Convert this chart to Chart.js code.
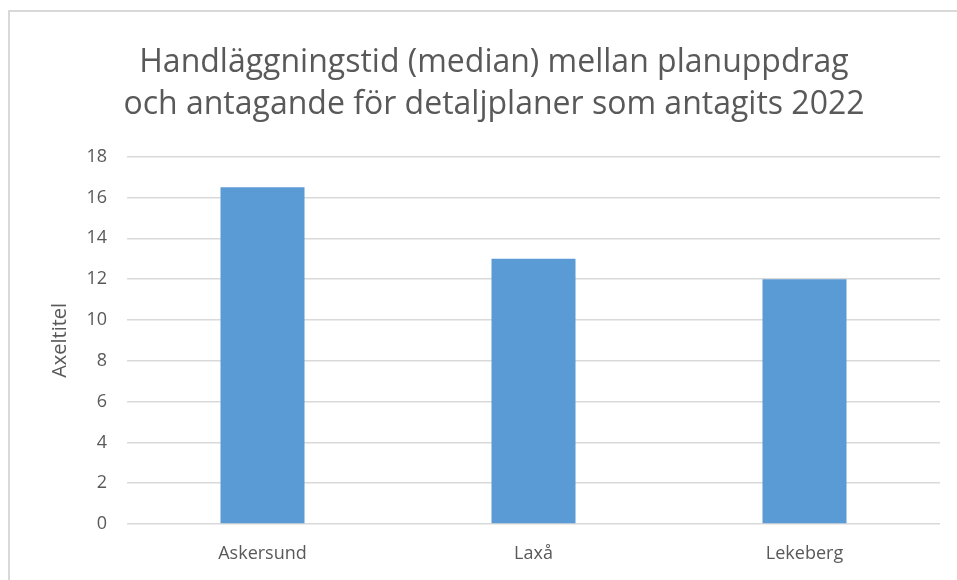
<!DOCTYPE html>
<html>
<head>
<meta charset="utf-8">
<script src="https://cdn.jsdelivr.net/npm/chart.js@4.4.1/dist/chart.umd.min.js"></script>
<style>
  html, body { margin: 0; padding: 0; background: #fff; overflow: hidden; }
  #ram { position: absolute; left: 8px; top: 10px; width: 1000px; height: 700px; border: 2px solid #d9d9d9; box-sizing: border-box; }
  #wrap { position: absolute; left: 0; top: 0; width: 957px; height: 580px; }
</style>
</head>
<body>
<div id="ram"></div>
<div id="wrap"><canvas id="diagram"></canvas></div>
<script>
// Data
const kommuner = ['Askersund', 'Laxå', 'Lekeberg'];
const manader = [16.5, 13, 12];
const yTicks = [0, 2, 4, 6, 8, 10, 12, 14, 16, 18];

const grå = '#595959';
const font = 'Open Sans';

const ctx = document.getElementById('diagram').getContext('2d');
new Chart(ctx, {
    type: 'bar',
    data: {
        labels: kommuner,
        datasets: [{
            label: 'Handläggningstid',
            data: manader,
            backgroundColor: '#5b9bd5',
            barPercentage: 0.31,
            categoryPercentage: 1
        }]
    },
    options: {
        responsive: true,
        maintainAspectRatio: false,
        animation: false,
        layout: { padding: { left: 48, right: 17, top: 41, bottom: 0 } },
        plugins: {
            legend: { display: false },
            tooltip: { enabled: false },
            title: {
                display: true,
                text: ['Handläggningstid (median) mellan planuppdrag', 'och antagande för detaljplaner som antagits 2022'],
                color: grå,
                font: { family: font, size: 32, weight: 'normal', lineHeight: 1.34 },
                padding: { top: 0, bottom: 30 }
            }
        },
        scales: {
            x: {
                grid: { display: false, drawTicks: false },
                border: { display: false },
                ticks: { color: grå, font: { family: font, size: 18 }, padding: 19 },
                afterFit: (s) => { s.height = 56; }
            },
            y: {
                min: 0,
                max: 18,
                afterBuildTicks: (s) => { s.ticks = yTicks.map(v => ({ value: v })); },
                grid: { color: '#d9d9d9', lineWidth: 1.5, drawTicks: false },
                border: { display: false },
                ticks: { color: grå, font: { family: font, size: 18 }, padding: 20 },
                title: {
                    display: true,
                    text: 'Axeltitel',
                    color: grå,
                    font: { family: font, size: 20 },
                    padding: 0
                },
                afterFit: (s) => { s.width = 79; }
            }
        }
    }
});
</script>
</body>
</html>
